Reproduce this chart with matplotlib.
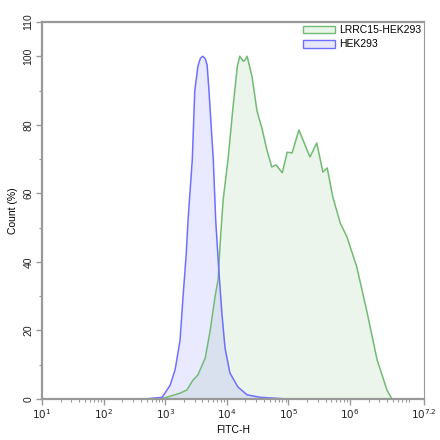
import matplotlib.pyplot as plt
import numpy as np
from matplotlib.patches import Patch
from matplotlib.ticker import FixedLocator, LogLocator, MultipleLocator, NullFormatter

plt.rcParams['font.family'] = ['Liberation Sans', 'DejaVu Sans']

# HEK293 (blue): log10(FITC-H) and count (%)
hek_log = [2.59, 2.75, 2.95, 3.08, 3.16, 3.24, 3.29, 3.34, 3.37, 3.44, 3.48, 3.53,
           3.57, 3.61, 3.65, 3.68, 3.71, 3.76, 3.78, 3.82, 3.87, 3.92, 3.97, 4.05,
           4.18, 4.33, 4.54, 4.98]
hek_cnt = [0, 0.1, 0.5, 4.0, 8.5, 17, 30, 42, 52, 70, 90, 97,
           99.4, 100, 99.3, 97.5, 90, 75.6, 70, 52, 37.6, 25, 15, 7.6,
           3.5, 1.2, 0.5, 0]

# LRRC15-HEK293 (green)
lrrc_log = [2.59, 2.99, 3.24, 3.35, 3.45, 3.53, 3.65, 3.73, 3.81, 3.86, 3.89, 3.94,
            4.02, 4.10, 4.17, 4.21, 4.27, 4.30, 4.33, 4.41, 4.49, 4.57, 4.65,
            4.73, 4.80, 4.90, 4.98, 5.06, 5.17, 5.35, 5.46, 5.56, 5.63, 5.72,
            5.84, 5.95, 6.11, 6.28, 6.44, 6.60, 6.68]
lrrc_cnt = [0, 0.3, 1.7, 2.6, 5.5, 7, 12, 20, 30, 35, 45, 58,
            70, 85, 97, 100, 98.5, 99, 100, 94, 84, 79, 72.7,
            67.7, 68.3, 66, 72, 71.8, 78.5, 70.6, 74.7, 66.2, 67.4, 59,
            51.4, 47.3, 38.5, 25, 11.4, 2.6, 0]

series = ['LRRC15-HEK293', 'HEK293']

fig = plt.figure(figsize=(4.4, 4.4), dpi=100)
ax = fig.add_axes([0.0955, 0.0932, 0.868, 0.8568])

gx = 10 ** np.array(lrrc_log)
bx = 10 ** np.array(hek_log)
ax.fill_between(gx, lrrc_cnt, 0, color='#5fb35f', alpha=0.12, lw=0)
ax.plot(gx, lrrc_cnt, color='#72bb72', lw=1.1, solid_joinstyle='round')
ax.fill_between(bx, hek_cnt, 0, color='#6a6aff', alpha=0.14, lw=0)
ax.plot(bx, hek_cnt, color='#6f6fff', lw=1.1, solid_joinstyle='round')

ax.set_xscale('log')
ax.set_xlim(10 ** 1, 10 ** 7.2)
ax.set_ylim(0, 110)

xt = [1, 2, 3, 4, 5, 6, 7.2]
ax.xaxis.set_major_locator(FixedLocator([10 ** v for v in xt]))
ax.set_xticklabels([r'$10^{%g}$' % v for v in xt])
ax.xaxis.set_minor_locator(LogLocator(base=10, subs=np.arange(2, 10), numticks=20))
ax.xaxis.set_minor_formatter(NullFormatter())

ax.set_yticks([0, 20, 40, 60, 80, 100, 110])
ax.yaxis.set_minor_locator(MultipleLocator(10))
for lab in ax.get_yticklabels():
    lab.set_rotation(90)
    lab.set_va('center')

for side in ['left', 'bottom', 'top', 'right']:
    ax.spines[side].set_color('#999999')
ax.spines['left'].set_linewidth(1.6)
ax.spines['bottom'].set_linewidth(1.6)
ax.spines['top'].set_linewidth(1.6)
ax.spines['right'].set_linewidth(0.8)

ax.tick_params(which='major', length=4, width=1, color='#999999', labelsize=7.5,
               labelcolor='#222222', pad=2)
ax.tick_params(which='minor', length=2, width=0.8, color='#999999')

ax.set_xlabel('FITC-H', fontsize=7.5, labelpad=3)
ax.set_ylabel('Count (%)', fontsize=7.5, labelpad=4)

handles = [Patch(facecolor='#eaf5ea', edgecolor='#72bb72', lw=1),
           Patch(facecolor='#e8e8fc', edgecolor='#6f6fff', lw=1)]
ax.legend(handles, series, loc='upper right', frameon=False, fontsize=7.5,
          handlelength=3.0, handleheight=0.8, handletextpad=0.4,
          borderaxespad=0.1, labelspacing=0.4, borderpad=0.2)

fig.savefig('out.png', dpi=100)
